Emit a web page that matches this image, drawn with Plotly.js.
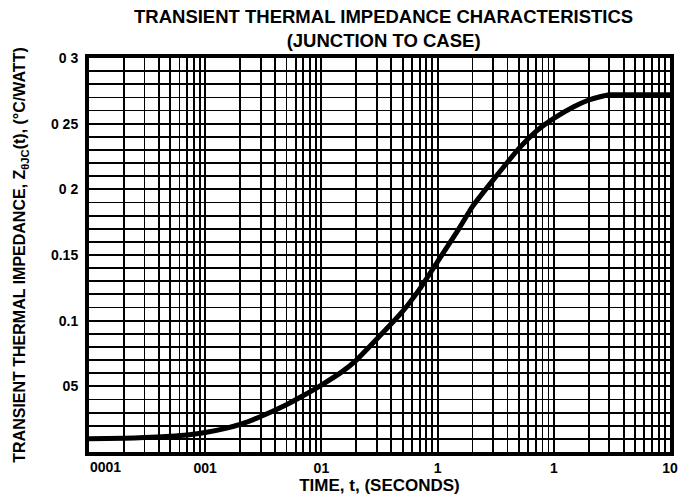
<!DOCTYPE html>
<html><head><meta charset="utf-8">
<script src="https://cdn.plot.ly/plotly-3.0.1.min.js"></script>
<style>html,body{margin:0;padding:0;background:#fff}</style>
</head><body><div id="chart" style="width:685px;height:496px"></div>
<script>
// Curve
const timeSec = [0.0001, 0.0002, 0.0003, 0.0005, 0.0007, 0.001, 0.0015, 0.002, 0.003, 0.005, 0.007, 0.01, 0.015, 0.02, 0.03, 0.05, 0.07, 0.1, 0.15, 0.2, 0.3, 0.5, 0.7, 1, 1.5, 2, 2.5, 3, 5, 10];
const zthJC   = [0.010, 0.0105, 0.011, 0.012, 0.013, 0.0148, 0.018, 0.021, 0.027, 0.036, 0.043, 0.051, 0.061, 0.070, 0.086, 0.107, 0.124, 0.145, 0.169, 0.187, 0.207, 0.231, 0.244, 0.254, 0.263, 0.268, 0.2705, 0.272, 0.272, 0.272];

// Tick labels as printed on the reference
const xLabelVals = [0.0001, 0.001, 0.01, 0.1, 1, 10];
const xLabelText = ["0001", "001", "01", "1", "1", "10"];
const yLabelVals = [0.05, 0.1, 0.15, 0.2, 0.25, 0.3];
const yLabelText = ["05", "0.1", "0.15", "0 2", "0 25", "0 3"];

// gridline positions (log minors and 0.01 steps) built from the label arrays
const xGrid = [], xGridText = [];
for (let d = 0; d < xLabelVals.length; d++) {
  const base = xLabelVals[d];
  const mults = d < xLabelVals.length - 1 ? [1,2,3,4,5,6,7,8,9] : [1];
  for (const m of mults) {
    const v = +(base * m).toPrecision(3);
    xGrid.push(v);
    // first label is printed right of its gridline in the reference -> annotation
    xGridText.push(m === 1 && d > 0 ? xLabelText[d] : "");
  }
}
const yGrid = [], yGridText = [];
for (let i = 0; i <= 30; i++) {
  const v = +(i * 0.01).toFixed(2);
  yGrid.push(v);
  const k = yLabelVals.findIndex(a => Math.abs(a - v) < 1e-9);
  yGridText.push(k >= 0 ? yLabelText[k] : "");
}

const fontFam = "Liberation Sans, Arial, Helvetica, sans-serif";
const data = [{
  x: timeSec, y: zthJC, type: "scatter", mode: "lines",
  line: {color: "#000", width: 5, shape: "spline", smoothing: 0.4},
  hoverinfo: "skip"
}];
const layout = {
  width: 685, height: 496,
  margin: {l: 89, r: 15, t: 58, b: 44},
  paper_bgcolor: "#fff", plot_bgcolor: "#fff",
  showlegend: false,
  title: {
    text: "<b>TRANSIENT THERMAL IMPEDANCE CHARACTERISTICS<br>(JUNCTION TO CASE)</b>",
    font: {family: fontFam, size: 18.5, color: "#000"},
    x: 0.56, xanchor: "center", yref: "container", y: 0.953, yanchor: "middle"
  },
  annotations: [{
    x: Math.log10(xLabelVals[0]), y: 0, xref: "x", yref: "paper",
    text: "<b>" + xLabelText[0] + "</b>", showarrow: false,
    xanchor: "left", yanchor: "top", xshift: -1, yshift: -5,
    font: {family: fontFam, size: 14, color: "#000"}
  }],
  xaxis: {
    type: "log", range: [-4, 1],
    tickmode: "array", tickvals: xGrid, ticktext: xGridText,
    showgrid: true, gridcolor: "#000", gridwidth: 1.8,
    showline: true, linecolor: "#000", linewidth: 4, mirror: true,
    ticks: "", zeroline: false,
    tickfont: {family: fontFam, size: 14, color: "#000", weight: "bold"},
    title: {text: "<b>TIME, t, (SECONDS)</b>", font: {family: fontFam, size: 17, color: "#000"}, standoff: 1}
  },
  yaxis: {
    range: [0, 0.3],
    tickmode: "array", tickvals: yGrid, ticktext: yGridText,
    showgrid: true, gridcolor: "#000", gridwidth: 1.8,
    showline: true, linecolor: "#000", linewidth: 4, mirror: true,
    ticks: "", zeroline: false, ticklabelstandoff: 4,
    tickfont: {family: fontFam, size: 14, color: "#000", weight: "bold"},
    title: {text: "<b>TRANSIENT THERMAL IMPEDANCE, Z<sub>θJC</sub>(t), (°C/WATT)</b>", font: {family: fontFam, size: 16, color: "#000"}, standoff: 22}
  }
};
Plotly.newPlot("chart", data, layout, {displayModeBar: false, staticPlot: true});
</script>
</body></html>
